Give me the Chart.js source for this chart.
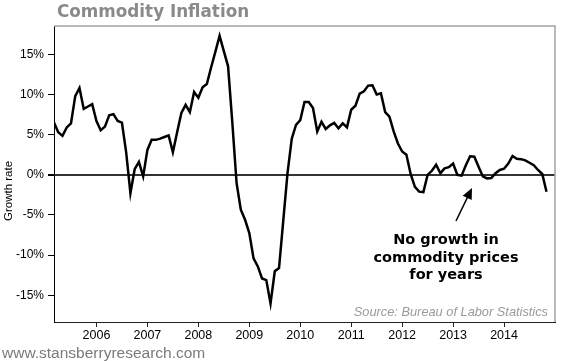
<!DOCTYPE html>
<html>
<head>
<meta charset="utf-8">
<script src="https://cdn.jsdelivr.net/npm/chart.js@4.4.1/dist/chart.umd.min.js"></script>
<style>
  html, body { margin: 0; padding: 0; background: #fff; }
  #wrap { width: 568px; height: 361px; position: relative; }
</style>
</head>
<body>
<div id="wrap"><canvas id="chart" width="568" height="361"></canvas></div>
<script>
// Данные: годовой рост цен на сырьё, помесячно с марта 2005 по ноябрь 2014
const firstYear = 2005;
const firstMonth = 3;
const growth = [
  6.5, 5.3, 4.85, 5.9, 6.4, 9.8, 10.8, 8.2, 8.5, 8.8,          // 2005 (мар-дек)
  6.7, 5.55, 6.0, 7.4, 7.55, 6.7, 6.5, 2.8, -2.3, 0.7, 1.6, -0.2, // 2006
  3.1, 4.35, 4.35, 4.5, 4.7, 4.9, 2.8, 5.3, 7.7, 8.7, 7.8, 10.3,  // 2007
  9.6, 10.9, 11.3, 13.35, 15.3, 17.3, 15.4, 13.5, 6.5, -1.0, -4.35, -5.6, // 2008
  -7.25, -10.4, -11.4, -12.9, -13.1, -16.0, -12.0, -11.6, -5.7, 0.2, 4.5, 6.2, // 2009
  6.8, 9.05, 9.05, 8.3, 5.4, 6.6, 5.7, 6.15, 6.45, 5.8, 6.4, 5.9, // 2010
  8.1, 8.6, 10.1, 10.4, 11.1, 11.15, 10.0, 10.15, 7.8, 7.25, 5.4, 3.9, // 2011
  2.9, 2.5, 0.1, -1.5, -2.1, -2.15, 0.0, 0.5, 1.25, 0.2, 0.8, 0.95, // 2012
  1.4, 0.0, -0.1, 1.2, 2.3, 2.25, 1.0, -0.2, -0.45, -0.4, 0.2, 0.6, // 2013
  0.75, 1.4, 2.35, 2.0, 1.95, 1.8, 1.5, 1.2, 0.6, 0.1, -2.1        // 2014 (янв-ноя)
];
const years = [2006, 2007, 2008, 2009, 2010, 2011, 2012, 2013, 2014];
const yTicks = [-15, -10, -5, 0, 5, 10, 15];

const title = 'Commodity Inflation';
const yTitle = 'Growth rate';
const note = ['No growth in', 'commodity prices', 'for years'];
const source = 'Source: Bureau of Labor Statistics';
const site = 'www.stansberryresearch.com';

// точки: x — дробный год
const points = growth.map((v, i) => ({ x: firstYear + (firstMonth - 1 + i) / 12, y: v }));

const FONT = '"Liberation Sans", Arial, sans-serif';
const VFONT = '"DejaVu Sans", Verdana, sans-serif';

// Подписи, рамка и стрелка
const extras = {
  id: 'extras',
  afterDraw(chart) {
    const ctx = chart.ctx;
    const a = chart.chartArea;
    ctx.save();

    // серая рамка сверху и справа
    ctx.strokeStyle = '#a3a3a3';
    ctx.lineWidth = 1.5;
    ctx.beginPath();
    ctx.moveTo(a.left, a.top);
    ctx.lineTo(a.right, a.top);
    ctx.lineTo(a.right, a.bottom);
    ctx.stroke();

    // заголовок
    ctx.fillStyle = '#8a8a8a';
    ctx.font = 'bold 16.8px ' + VFONT;
    ctx.textAlign = 'left';
    ctx.textBaseline = 'middle';
    ctx.fillText(title, 57, 13);

    // подпись оси Y
    ctx.save();
    ctx.translate(9, 191);
    ctx.rotate(-Math.PI / 2);
    ctx.fillStyle = '#000';
    ctx.font = '11.5px ' + FONT;
    ctx.textAlign = 'center';
    ctx.fillText(yTitle, 0, 0);
    ctx.restore();

    // аннотация
    ctx.fillStyle = '#000';
    ctx.font = 'bold 14.5px ' + VFONT;
    ctx.textAlign = 'center';
    note.forEach((line, i) => ctx.fillText(line, 446, 240 + i * 17.8));

    // стрелка
    const x0 = 456, y0 = 221, x1 = 472, y1 = 188;
    const ang = Math.atan2(y1 - y0, x1 - x0);
    ctx.strokeStyle = '#000';
    ctx.lineWidth = 1.5;
    ctx.beginPath();
    ctx.moveTo(x0, y0);
    ctx.lineTo(x1 - 8 * Math.cos(ang), y1 - 8 * Math.sin(ang));
    ctx.stroke();
    ctx.beginPath();
    ctx.moveTo(x1, y1);
    ctx.lineTo(x1 - 11 * Math.cos(ang) + 5 * Math.sin(ang), y1 - 11 * Math.sin(ang) - 5 * Math.cos(ang));
    ctx.lineTo(x1 - 11 * Math.cos(ang) - 5 * Math.sin(ang), y1 - 11 * Math.sin(ang) + 5 * Math.cos(ang));
    ctx.closePath();
    ctx.fill();

    // источник
    ctx.fillStyle = '#9a9a9a';
    ctx.font = 'italic 12.8px ' + FONT;
    ctx.textAlign = 'right';
    ctx.fillText(source, 548, 312);

    // сайт
    ctx.fillStyle = '#7a7a7a';
    ctx.font = '15.5px ' + FONT;
    ctx.textAlign = 'left';
    ctx.fillText(site, 2, 354);

    ctx.restore();
  }
};

new Chart(document.getElementById('chart'), {
  type: 'line',
  data: {
    datasets: [{
      data: points,
      borderColor: '#000',
      borderWidth: 2.5,
      pointRadius: 0,
      tension: 0,
      fill: false
    }]
  },
  options: {
    responsive: false,
    animation: false,
    devicePixelRatio: 1,
    layout: { padding: { top: 26, right: 13, left: 0, bottom: 0 } },
    plugins: { legend: { display: false }, tooltip: { enabled: false } },
    scales: {
      x: {
        type: 'linear',
        min: firstYear + (firstMonth - 1) / 12,
        max: 2015,
        afterBuildTicks: (s) => { s.ticks = years.map(v => ({ value: v })); },
        afterFit: (s) => { s.height = 39; },
        border: { color: '#222', width: 1 },
        grid: { drawOnChartArea: false, tickLength: 5, tickColor: '#222' },
        ticks: {
          autoSkip: false,
          maxRotation: 0,
          padding: 1,
          color: '#000',
          font: { family: FONT, size: 12.5 },
          callback: (v) => String(v)
        }
      },
      y: {
        min: -18.32,
        max: 18.52,
        afterBuildTicks: (s) => { s.ticks = yTicks.map(v => ({ value: v })); },
        afterFit: (s) => { s.width = 54; },
        border: { color: '#000', width: 1 },
        grid: {
          drawOnChartArea: true,
          color: (c) => (c.tick && c.tick.value === 0 ? '#333' : 'rgba(0,0,0,0)'),
          lineWidth: (c) => (c.tick && c.tick.value === 0 ? 2 : 1),
          tickLength: 6,
          tickColor: '#000'
        },
        ticks: {
          padding: 4,
          color: '#000',
          font: { family: FONT, size: 12 },
          callback: (v) => v + '%'
        }
      }
    }
  },
  plugins: [extras]
});
</script>
</body>
</html>
